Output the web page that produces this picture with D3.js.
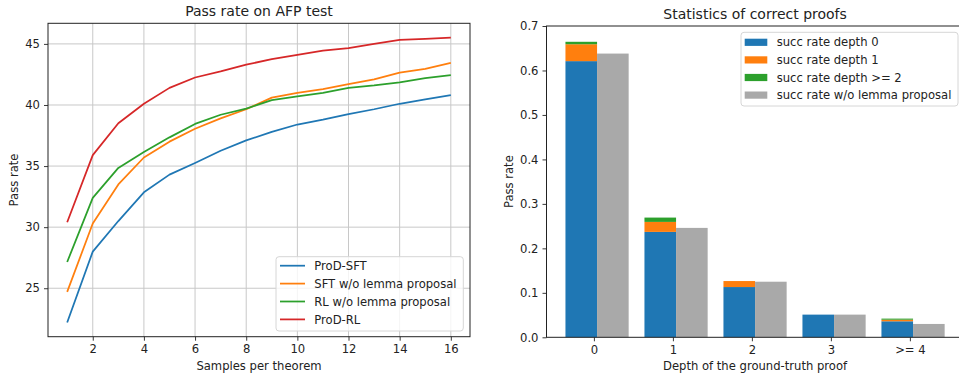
<!DOCTYPE html>
<html>
<head>
<meta charset="utf-8">
<script src="https://cdn.jsdelivr.net/npm/d3@7"></script>
<style>
	body { margin: 0; background: #fff; }
	svg text { font-family: "DejaVu Sans", sans-serif; fill: #222; }
</style>
</head>
<body>
<svg id="chart" width="959" height="377"></svg>
<script>
// Left panel: pass rate vs samples
var samples = [1, 2, 3, 4, 5, 6, 7, 8, 9, 10, 11, 12, 13, 14, 15, 16];
var prodSft = [22.2, 28.0, 30.5, 32.85, 34.3, 35.25, 36.25, 37.1, 37.8, 38.4, 38.8, 39.25, 39.65, 40.1, 40.45, 40.8];
var sftNoLemma = [24.7, 30.3, 33.5, 35.7, 37.0, 38.05, 38.9, 39.65, 40.6, 41.0, 41.3, 41.7, 42.1, 42.65, 42.95, 43.45];
var rlNoLemma = [27.15, 32.4, 34.85, 36.15, 37.35, 38.45, 39.2, 39.7, 40.4, 40.7, 41.0, 41.4, 41.6, 41.85, 42.2, 42.45];
var prodRl = [30.4, 35.9, 38.5, 40.1, 41.4, 42.25, 42.75, 43.3, 43.75, 44.1, 44.45, 44.65, 45.0, 45.33, 45.42, 45.52];
var lineNames = ["ProD-SFT", "SFT w/o lemma proposal", "RL w/o lemma proposal", "ProD-RL"];
var lineTicksX = [2, 4, 6, 8, 10, 12, 14, 16];
var lineTicksY = [25, 30, 35, 40, 45];

// Right panel: stacked bars by proof depth
var depthLabels = ["0", "1", "2", "3", ">= 4"];
var depth0 = [0.621, 0.237, 0.113, 0.051, 0.036];
var depth1 = [0.038, 0.0225, 0.0135, 0, 0.0036];
var depth2 = [0.0055, 0.0097, 0, 0, 0.0024];
var noLemma = [0.638, 0.246, 0.125, 0.051, 0.030];
var barNames = ["succ rate depth 0", "succ rate depth 1", "succ rate depth >= 2", "succ rate w/o lemma proposal"];
var barTicksY = [0, 0.1, 0.2, 0.3, 0.4, 0.5, 0.6, 0.7];

var colors = ["#1f77b4", "#ff7f0e", "#2ca02c", "#d62728"];
var gray = "#a9a9a9";
var fontSize = 11.6;

var svg = d3.select("#chart");

function styleAxis(g) {
	g.select(".domain").remove();
	g.selectAll(".tick line").attr("stroke", "#222").attr("stroke-width", 0.9);
	g.selectAll(".tick text").style("font-size", fontSize + "px").attr("fill", "#222");
}

// ---------- left chart ----------
var L = { left: 48, right: 470, top: 23.3, bottom: 336.7 };
var lx = d3.scaleLinear().domain([0.25, 16.75]).range([L.left, L.right]);
var allVals = prodSft.concat(sftNoLemma, rlNoLemma, prodRl);
var ext = d3.extent(allVals);
var pad = (ext[1] - ext[0]) * 0.05;
var ly = d3.scaleLinear().domain([ext[0] - pad, ext[1] + pad]).range([L.bottom, L.top]);

var leftG = svg.append("g");

// grid
leftG.append("g").selectAll("line")
	.data(lineTicksX)
	.enter().append("line")
	.attr("x1", function(d) { return lx(d); })
	.attr("x2", function(d) { return lx(d); })
	.attr("y1", L.top).attr("y2", L.bottom)
	.attr("stroke", "#c8c8c8").attr("stroke-width", 1);
leftG.append("g").selectAll("line")
	.data(lineTicksY)
	.enter().append("line")
	.attr("x1", L.left).attr("x2", L.right)
	.attr("y1", function(d) { return ly(d); })
	.attr("y2", function(d) { return ly(d); })
	.attr("stroke", "#c8c8c8").attr("stroke-width", 1);

// axes
leftG.append("g")
	.attr("transform", "translate(0," + L.bottom + ")")
	.call(d3.axisBottom(lx).tickValues(lineTicksX).tickSize(4).tickPadding(4).tickFormat(d3.format("d")))
	.call(styleAxis);
leftG.append("g")
	.attr("transform", "translate(" + L.left + ",0)")
	.call(d3.axisLeft(ly).tickValues(lineTicksY).tickSize(4).tickPadding(4).tickFormat(d3.format("d")))
	.call(styleAxis);

// lines
var seriesList = [prodSft, sftNoLemma, rlNoLemma, prodRl];
var lineGen = d3.line()
	.x(function(d, i) { return lx(samples[i]); })
	.y(function(d) { return ly(d); });
seriesList.forEach(function(s, i) {
	leftG.append("path")
		.datum(s)
		.attr("d", lineGen)
		.attr("fill", "none")
		.attr("stroke", colors[i])
		.attr("stroke-width", 1.75)
		.attr("stroke-linejoin", "round");
});

// frame
leftG.append("rect")
	.attr("x", L.left).attr("y", L.top)
	.attr("width", L.right - L.left).attr("height", L.bottom - L.top)
	.attr("fill", "none").attr("stroke", "#222").attr("stroke-width", 1);

// legend
var leg = leftG.append("g").attr("transform", "translate(276,256.7)");
leg.append("rect")
	.attr("width", 187.3).attr("height", 74.3)
	.attr("rx", 3)
	.attr("fill", "#fff").attr("fill-opacity", 0.8)
	.attr("stroke", "#d6d6d6").attr("stroke-width", 1);
lineNames.forEach(function(name, i) {
	var yy = 9 + 17.9 * i;
	leg.append("line")
		.attr("x1", 4).attr("x2", 29)
		.attr("y1", yy).attr("y2", yy)
		.attr("stroke", colors[i]).attr("stroke-width", 1.75);
	leg.append("text")
		.attr("x", 38.3).attr("y", yy + 4.2)
		.style("font-size", fontSize + "px")
		.text(name);
});

// titles
leftG.append("text")
	.attr("x", (L.left + L.right) / 2).attr("y", 16.3)
	.attr("text-anchor", "middle")
	.style("font-size", "14px")
	.text("Pass rate on AFP test");
leftG.append("text")
	.attr("x", (L.left + L.right) / 2).attr("y", 369.5)
	.attr("text-anchor", "middle")
	.style("font-size", fontSize + "px")
	.text("Samples per theorem");
leftG.append("text")
	.attr("transform", "translate(17.5," + (L.top + L.bottom) / 2 + ") rotate(-90)")
	.attr("text-anchor", "middle")
	.style("font-size", fontSize + "px")
	.text("Pass rate");

// ---------- right chart ----------
var R = { left: 546.5, right: 963.6, top: 26, bottom: 337.3 };
var bx = d3.scaleLinear().domain([-0.6, 4.68]).range([R.left, R.right]);
var by = d3.scaleLinear().domain([0, 0.7]).range([R.bottom, R.top]);
var barW = 0.4;

var rightG = svg.append("g");

rightG.append("g")
	.attr("transform", "translate(0," + R.bottom + ")")
	.call(d3.axisBottom(bx).tickValues(d3.range(depthLabels.length)).tickSize(4).tickPadding(4)
		.tickFormat(function(d) { return depthLabels[d]; }))
	.call(styleAxis);
rightG.append("g")
	.attr("transform", "translate(" + R.left + ",0)")
	.call(d3.axisLeft(by).tickValues(barTicksY).tickSize(4).tickPadding(4).tickFormat(d3.format(".1f")))
	.call(styleAxis);

// stacked bars (blue, orange, green) placed left of gray bar
var stackRows = depthLabels.map(function(d, i) {
	return { idx: i, d0: depth0[i], d1: depth1[i], d2: depth2[i] };
});
var stack = d3.stack().keys(["d0", "d1", "d2"])(stackRows);
stack.forEach(function(layer, k) {
	rightG.append("g").selectAll("rect")
		.data(layer)
		.enter().append("rect")
		.attr("x", function(d) { return bx(d.data.idx - 0.36); })
		.attr("width", bx(barW) - bx(0))
		.attr("y", function(d) { return by(d[1]); })
		.attr("height", function(d) { return by(d[0]) - by(d[1]); })
		.attr("fill", colors[k]);
});
rightG.append("g").selectAll("rect")
	.data(noLemma)
	.enter().append("rect")
	.attr("x", function(d, i) { return bx(i + 0.04); })
	.attr("width", bx(barW) - bx(0))
	.attr("y", function(d) { return by(d); })
	.attr("height", function(d) { return by(0) - by(d); })
	.attr("fill", gray);

// spines (right one falls outside the picture)
rightG.append("rect")
	.attr("x", R.left).attr("y", R.top)
	.attr("width", R.right - R.left).attr("height", R.bottom - R.top)
	.attr("fill", "none").attr("stroke", "#222").attr("stroke-width", 1);

// legend
var leg2 = rightG.append("g").attr("transform", "translate(741,32.3)");
leg2.append("rect")
	.attr("width", 217).attr("height", 73.7)
	.attr("rx", 3)
	.attr("fill", "#fff").attr("fill-opacity", 0.8)
	.attr("stroke", "#d6d6d6").attr("stroke-width", 1);
var legColors = [colors[0], colors[1], colors[2], gray];
barNames.forEach(function(name, i) {
	var yy = 10 + 17.6 * i;
	leg2.append("rect")
		.attr("x", 3.7).attr("y", yy - 3.6)
		.attr("width", 22.6).attr("height", 7.2)
		.attr("fill", legColors[i]);
	leg2.append("text")
		.attr("x", 35.7).attr("y", yy + 4.2)
		.style("font-size", fontSize + "px")
		.text(name);
});

rightG.append("text")
	.attr("x", (R.left + R.right) / 2).attr("y", 19)
	.attr("text-anchor", "middle")
	.style("font-size", "14px")
	.text("Statistics of correct proofs");
rightG.append("text")
	.attr("x", (R.left + R.right) / 2).attr("y", 369.5)
	.attr("text-anchor", "middle")
	.style("font-size", fontSize + "px")
	.text("Depth of the ground-truth proof");
rightG.append("text")
	.attr("transform", "translate(513," + (R.top + R.bottom) / 2 + ") rotate(-90)")
	.attr("text-anchor", "middle")
	.style("font-size", fontSize + "px")
	.text("Pass rate");
</script>
</body>
</html>
